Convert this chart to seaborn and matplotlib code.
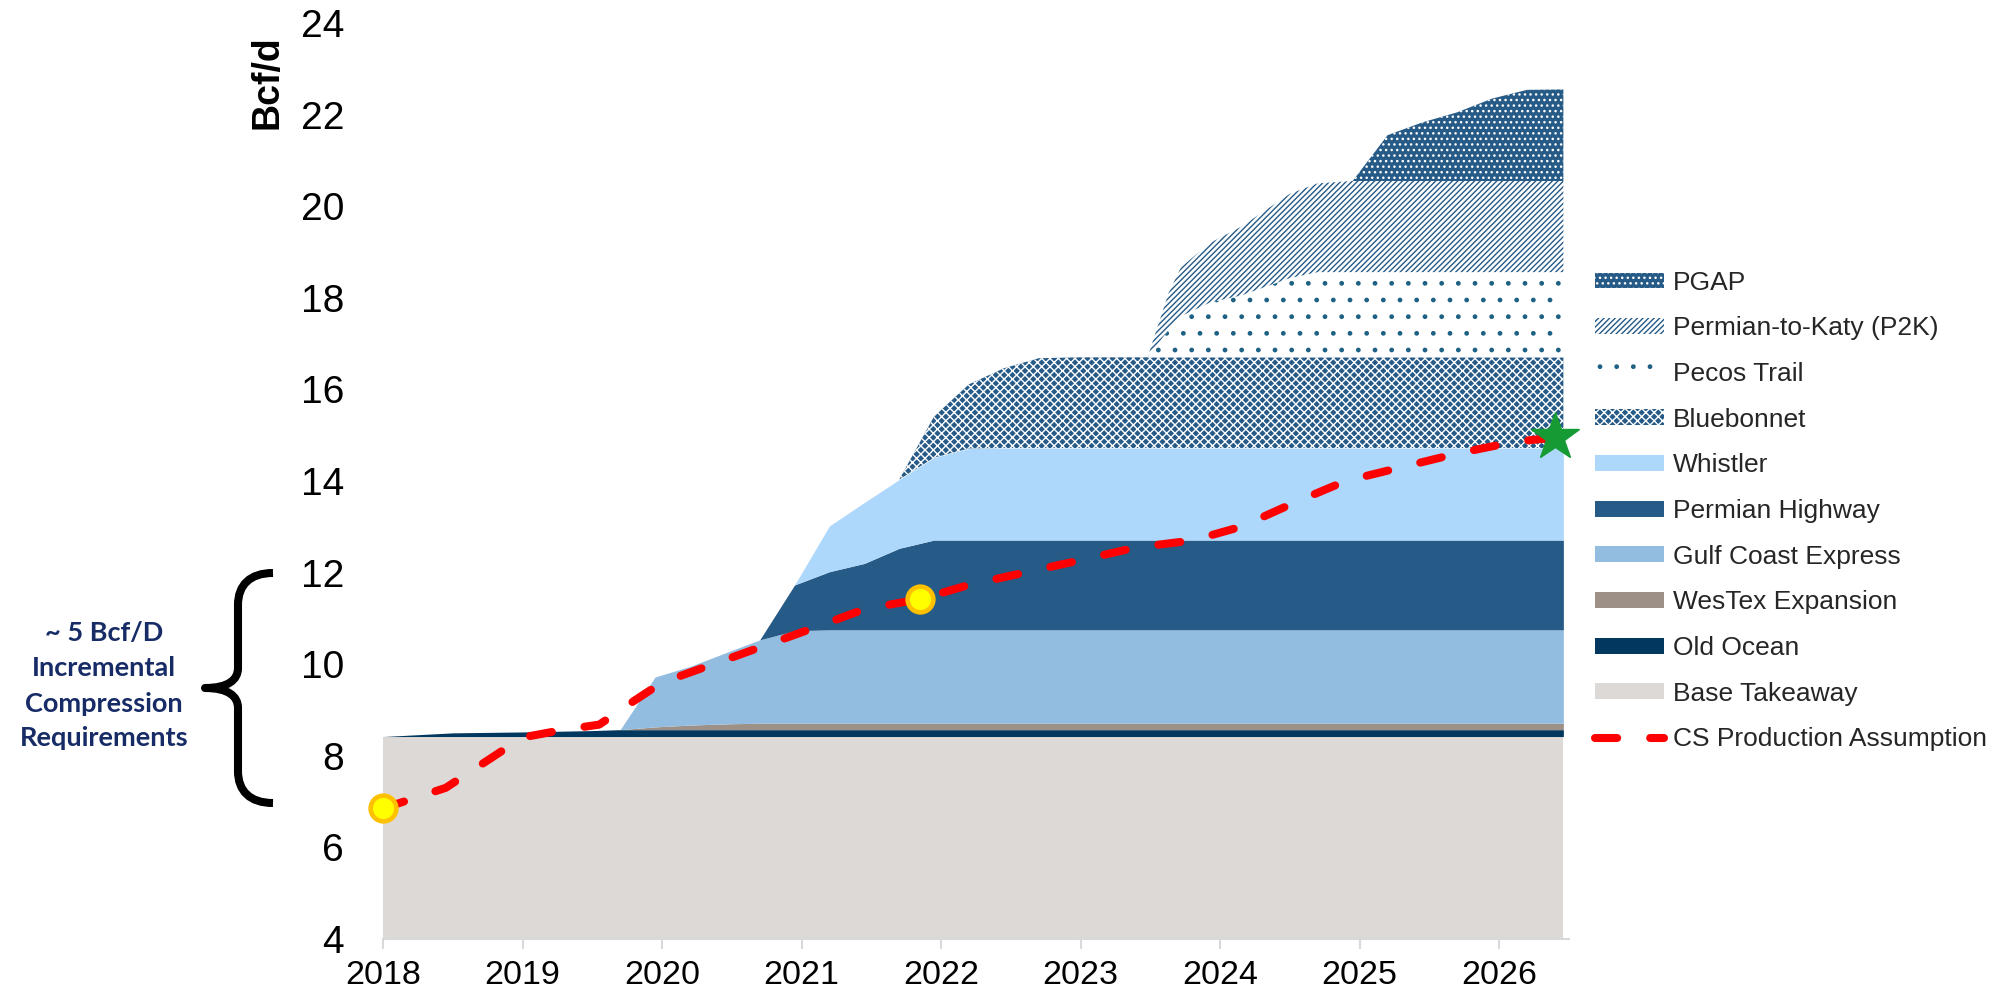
import numpy as np
import matplotlib
matplotlib.use("Agg")
import matplotlib.pyplot as plt
from matplotlib.path import Path
from matplotlib.patches import PathPatch
import seaborn as sns

# time axis (decimal years) shared by all stacked layers
years = [2018.0, 2018.5, 2019.0, 2019.5, 2019.7, 2019.95, 2020.2, 2020.5, 2020.7, 2020.95,
         2021.2, 2021.45, 2021.7, 2021.95, 2022.2, 2022.45, 2022.7, 2023.0, 2023.48, 2023.63,
         2023.72, 2023.93, 2024.15, 2024.5, 2024.7, 2024.95, 2025.2, 2025.45, 2025.7, 2025.95,
         2026.2, 2026.46]

# capacity added by each pipeline, Bcf/d (layer thickness)
base_takeaway = [8.42, 8.42, 8.42, 8.42, 8.42, 8.42, 8.42, 8.42, 8.42, 8.42,
                 8.42, 8.42, 8.42, 8.42, 8.42, 8.42, 8.42, 8.42, 8.42, 8.42,
                 8.42, 8.42, 8.42, 8.42, 8.42, 8.42, 8.42, 8.42, 8.42, 8.42,
                 8.42, 8.42]
old_ocean = [0.00, 0.08, 0.10, 0.13, 0.15, 0.15, 0.15, 0.15, 0.15, 0.15,
             0.15, 0.15, 0.15, 0.15, 0.15, 0.15, 0.15, 0.15, 0.15, 0.15,
             0.15, 0.15, 0.15, 0.15, 0.15, 0.15, 0.15, 0.15, 0.15, 0.15,
             0.15, 0.15]
westex = [0.00, 0.00, 0.00, 0.00, 0.00, 0.06, 0.10, 0.13, 0.14, 0.14,
          0.14, 0.14, 0.14, 0.14, 0.14, 0.14, 0.14, 0.14, 0.14, 0.14,
          0.14, 0.14, 0.14, 0.14, 0.14, 0.14, 0.14, 0.14, 0.14, 0.14,
          0.14, 0.14]
gulf_coast = [0.00, 0.00, 0.00, 0.00, 0.00, 1.09, 1.28, 1.60, 1.82, 2.02,
              2.04, 2.04, 2.04, 2.04, 2.04, 2.04, 2.04, 2.04, 2.04, 2.04,
              2.04, 2.04, 2.04, 2.04, 2.04, 2.04, 2.04, 2.04, 2.04, 2.04,
              2.04, 2.04]
permian_hwy = [0.00, 0.00, 0.00, 0.00, 0.00, 0.00, 0.00, 0.00, 0.00, 1.00,
               1.27, 1.45, 1.78, 1.96, 1.96, 1.96, 1.96, 1.96, 1.96, 1.96,
               1.96, 1.96, 1.96, 1.96, 1.96, 1.96, 1.96, 1.96, 1.96, 1.96,
               1.96, 1.96]
whistler = [0.00, 0.00, 0.00, 0.00, 0.00, 0.00, 0.00, 0.00, 0.00, 0.00,
            1.00, 1.33, 1.50, 1.80, 2.00, 2.01, 2.01, 2.01, 2.01, 2.01,
            2.01, 2.01, 2.01, 2.01, 2.01, 2.01, 2.01, 2.01, 2.01, 2.01,
            2.01, 2.01]
bluebonnet = [0.00, 0.00, 0.00, 0.00, 0.00, 0.00, 0.00, 0.00, 0.00, 0.00,
              0.00, 0.00, 0.00, 0.90, 1.40, 1.74, 1.96, 1.98, 1.98, 1.98,
              1.98, 1.98, 1.98, 1.98, 1.98, 1.98, 1.98, 1.98, 1.98, 1.98,
              1.98, 1.98]
pecos_trail = [0.00, 0.00, 0.00, 0.00, 0.00, 0.00, 0.00, 0.00, 0.00, 0.00,
               0.00, 0.00, 0.00, 0.00, 0.00, 0.00, 0.00, 0.00, 0.00, 0.60,
               0.90, 1.20, 1.35, 1.73, 1.86, 1.86, 1.86, 1.86, 1.86, 1.86,
               1.86, 1.86]
p2k = [0.00, 0.00, 0.00, 0.00, 0.00, 0.00, 0.00, 0.00, 0.00, 0.00,
       0.00, 0.00, 0.00, 0.00, 0.00, 0.00, 0.00, 0.00, 0.00, 0.80,
       1.07, 1.30, 1.50, 1.84, 1.94, 1.99, 1.99, 1.99, 1.99, 1.99,
       1.99, 1.99]
pgap = [0.00, 0.00, 0.00, 0.00, 0.00, 0.00, 0.00, 0.00, 0.00, 0.00,
        0.00, 0.00, 0.00, 0.00, 0.00, 0.00, 0.00, 0.00, 0.00, 0.00,
        0.00, 0.00, 0.00, 0.00, 0.00, 0.00, 1.00, 1.28, 1.50, 1.80,
        1.99, 2.00]

# CS production assumption line
cs_years = [2018.0, 2018.45, 2019.0, 2019.3, 2019.55, 2019.8, 2020.0, 2020.55, 2021.05, 2021.45,
            2021.85, 2022.2, 2022.6, 2023.0, 2023.4, 2023.8, 2024.15, 2024.55, 2024.9, 2025.3,
            2025.7, 2026.1, 2026.4]
cs_values = [6.85, 7.3, 8.4, 8.57, 8.68, 9.2, 9.6, 10.2, 10.75, 11.2,
             11.42, 11.73, 12.0, 12.27, 12.55, 12.7, 13.0, 13.55, 14.0, 14.3,
             14.6, 14.85, 14.95]
circle_years = [2018.0, 2021.85]
circle_values = [6.85, 11.42]
star_year = [2026.4]
star_value = [14.95]

tick_years = [2018, 2019, 2020, 2021, 2022, 2023, 2024, 2025, 2026]
tick_labels = ["2018", "2019", "2020", "2021", "2022", "2023", "2024", "2025", "2026"]

BLUE = "#265a87"
layers = [
    ("Base Takeaway", base_takeaway, dict(facecolor="#dcd9d6")),
    ("Old Ocean", old_ocean, dict(facecolor="#02375f")),
    ("WesTex Expansion", westex, dict(facecolor="#9c9087")),
    ("Gulf Coast Express", gulf_coast, dict(facecolor="#93bde0")),
    ("Permian Highway", permian_hwy, dict(facecolor=BLUE)),
    ("Whistler", whistler, dict(facecolor="#add8fc")),
    ("Bluebonnet", bluebonnet, dict(facecolor=BLUE, edgecolor="white", hatch="xxxx")),
    ("Pecos Trail", pecos_trail, dict(facecolor="white", edgecolor="#1e6184", hatch=".")),
    ("Permian-to-Katy (P2K)", p2k, dict(facecolor="white", edgecolor=BLUE, hatch="//////")),
    ("PGAP", pgap, dict(facecolor=BLUE, edgecolor="white", hatch="...")),
]

sns.set_theme(style="white")
plt.rcParams["font.family"] = ["Liberation Sans", "DejaVu Sans"]
plt.rcParams["hatch.linewidth"] = 1.0

fig = plt.figure(figsize=(20.03, 9.99), dpi=100)
ax = fig.add_axes([0.1912, 0.0601, 0.5921, 0.9169])

handles = {}
bottom = np.zeros(len(years))
for name, vals, style in layers:
    top = bottom + np.array(vals)
    handles[name] = ax.fill_between(years, bottom, top, linewidth=0, **style)
    bottom = top

sns.lineplot(x=cs_years, y=cs_values, ax=ax, color="#ff0000", lw=5.8,
             linestyle=(0, (2.75, 4.1)), dash_capstyle="round", legend=False, zorder=5)
cs_line = ax.lines[-1]
ax.plot(circle_years, circle_values, "o", ms=18.5, mfc="#ffff00", mec="#ffc000",
        mew=3.3, zorder=6, clip_on=False)
ax.plot(star_year, star_value, "*", ms=36, color="#169b34", mec="#169b34",
        zorder=7, clip_on=False)

ax.set_xlim(2018, 2026.5)
ax.set_ylim(4, 24)
ax.set_xticks(tick_years)
ax.set_xticklabels(tick_labels)
ax.set_yticks(range(4, 25, 2))
for s in ["top", "right", "left"]:
    ax.spines[s].set_visible(False)
ax.spines["bottom"].set_color("#d9d9d9")
ax.spines["bottom"].set_linewidth(1.5)
ax.tick_params(axis="x", bottom=True, length=7, width=1.5, color="#d9d9d9",
               pad=8, labelsize=24.5, labelcolor="black")
ax.tick_params(axis="y", left=False, length=0, pad=28, labelsize=28, labelcolor="black")
ax.set_ylabel("Bcf/d", fontsize=27, fontweight="bold", va="center", color="black")
ax.yaxis.set_label_coords(-0.097, 0.935)

order = ["PGAP", "Permian-to-Katy (P2K)", "Pecos Trail", "Bluebonnet", "Whistler",
         "Permian Highway", "Gulf Coast Express", "WesTex Expansion", "Old Ocean",
         "Base Takeaway"]
leg_handles = [handles[n] for n in order] + [cs_line]
leg_labels = order + ["CS Production Assumption"]
fig.legend(leg_handles, leg_labels, loc="center left", bbox_to_anchor=(0.7963, 0.4885),
           frameon=False, fontsize=19, handlelength=2.6, handleheight=0.55,
           handletextpad=0.35, labelspacing=0.82, borderpad=0, borderaxespad=0)

# brace + note on the left, drawn in pixel space
ov = fig.add_axes([0, 0, 1, 1])
ov.set_xlim(0, 2003)
ov.set_ylim(999, 0)
ov.axis("off")
verts = [(273, 573), (250, 573), (238, 585), (238, 605),
         (238, 668),
         (238, 680), (228, 688), (205, 688),
         (228, 688), (238, 696), (238, 708),
         (238, 771),
         (238, 791), (250, 803), (273, 803)]
codes = [Path.MOVETO, Path.CURVE4, Path.CURVE4, Path.CURVE4,
         Path.LINETO,
         Path.CURVE4, Path.CURVE4, Path.CURVE4,
         Path.CURVE4, Path.CURVE4, Path.CURVE4,
         Path.LINETO,
         Path.CURVE4, Path.CURVE4, Path.CURVE4]
ov.add_patch(PathPatch(Path(verts, codes), facecolor="none", edgecolor="black",
                       lw=5.8, capstyle="butt", joinstyle="round"))
ov.text(104, 686, "~ 5 Bcf/D\nIncremental\nCompression\nRequirements",
        ha="center", va="center", fontsize=19.5, fontweight="bold", color="#172c66",
        family=["Lato", "DejaVu Sans"], linespacing=1.55)

fig.savefig("out.png", dpi=100)
